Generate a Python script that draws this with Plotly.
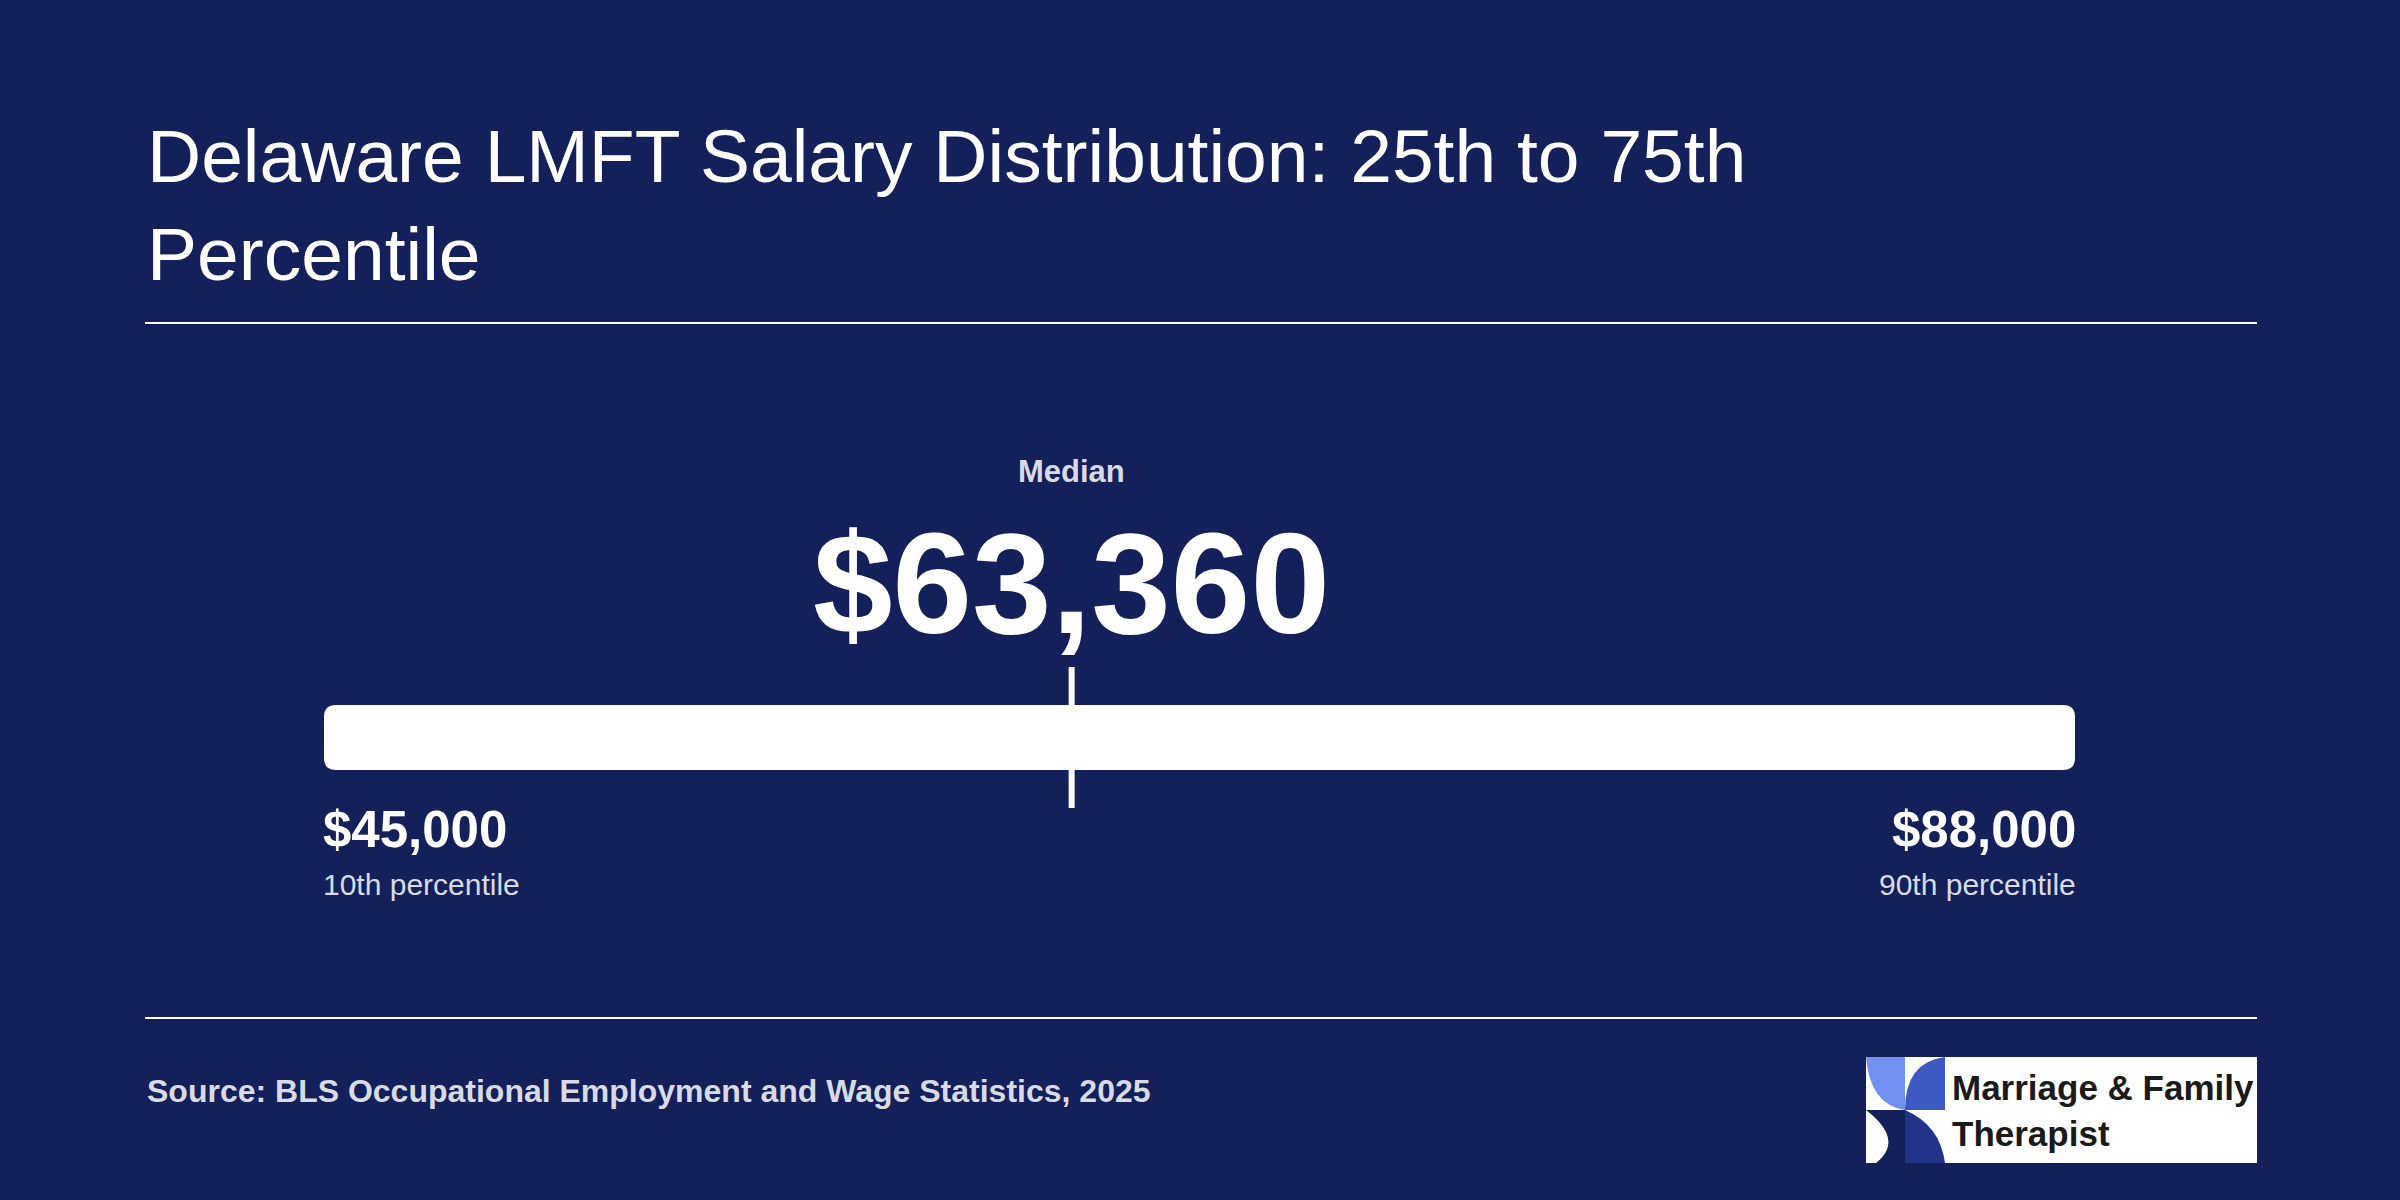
import plotly.graph_objects as go

# salary figures
low_value = 45000
median_value = 63360
high_value = 88000
low_label = "10th percentile"
high_label = "90th percentile"
title_text = "Delaware LMFT Salary Distribution: 25th to 75th<br>Percentile"
source_text = "Source: BLS Occupational Employment and Wage Statistics, 2025"

bg = "#14205a"
font = "Liberation Sans, Arial, sans-serif"
W, H = 2400, 1200
bar_l, bar_r = 324, 2075

# rounded bar outline, corner radius in data units (~12px)
rx = 12 / (bar_r - bar_l) * (high_value - low_value)
ry = 12 / H
yt, yb = 1 - 705 / H, 1 - 770 / H
bar_path = (f"M {low_value + rx},{yt} L {high_value - rx},{yt} Q {high_value},{yt} {high_value},{yt - ry} "
            f"L {high_value},{yb + ry} Q {high_value},{yb} {high_value - rx},{yb} "
            f"L {low_value + rx},{yb} Q {low_value},{yb} {low_value},{yb + ry} "
            f"L {low_value},{yt - ry} Q {low_value},{yt} {low_value + rx},{yt} Z")

fig = go.Figure()
fig.add_trace(go.Scatter(x=[low_value, high_value], y=[0, 0], mode="markers",
                         marker=dict(opacity=0), hoverinfo="skip", showlegend=False))

shapes = [
    # rules
    dict(type="line", xref="paper", yref="paper", x0=145/W, x1=2257/W, y0=1-323/H, y1=1-323/H,
         line=dict(color="white", width=2)),
    dict(type="line", xref="paper", yref="paper", x0=145/W, x1=2257/W, y0=1-1018/H, y1=1-1018/H,
         line=dict(color="white", width=2)),
    # range bar
    dict(type="path", xref="x", yref="paper", path=bar_path, fillcolor="white", line=dict(width=0)),
    # median marker
    dict(type="line", xref="x", yref="paper", x0=median_value, x1=median_value, y0=1-808/H, y1=1-667/H,
         line=dict(color="white", width=6)),
    # logo
    dict(type="rect", xref="paper", yref="paper", x0=1866/W, x1=2257/W, y0=1-1163/H, y1=1-1057/H,
         fillcolor="white", line=dict(width=0)),
    dict(type="path", xref="paper", yref="paper",
         path=f"M {1866/W},{1-1057/H} L {1905/W},{1-1057/H} L {1905/W},{1-1110/H} Q {1870/W},{1-1105/H} {1866/W},{1-1057/H} Z",
         fillcolor="#7090f2", line=dict(width=0)),
    dict(type="path", xref="paper", yref="paper",
         path=f"M {1945/W},{1-1057/H} L {1945/W},{1-1110/H} L {1905/W},{1-1110/H} Q {1905/W},{1-1062/H} {1945/W},{1-1057/H} Z",
         fillcolor="#3d59c4", line=dict(width=0)),
    dict(type="path", xref="paper", yref="paper",
         path=f"M {1866/W},{1-1110/H} L {1905/W},{1-1110/H} L {1905/W},{1-1163/H} L {1876/W},{1-1163/H} Q {1905/W},{1-1140/H} {1866/W},{1-1110/H} Z",
         fillcolor=bg, line=dict(width=0)),
    dict(type="path", xref="paper", yref="paper",
         path=f"M {1905/W},{1-1110/H} Q {1940/W},{1-1125/H} {1945/W},{1-1163/H} L {1905/W},{1-1163/H} Z",
         fillcolor="#22338a", line=dict(width=0)),
]

annotations = [
    dict(xref="paper", yref="paper", x=145/W, y=1-205/H, text=title_text, showarrow=False,
         xanchor="left", yanchor="middle", align="left",
         font=dict(family=font, size=75, color="white")),
    dict(xref="x", yref="paper", x=median_value, y=1-471/H, text="<b>Median</b>", showarrow=False,
         xanchor="center", yanchor="middle", font=dict(family=font, size=31, color="#d8dbe6")),
    dict(xref="x", yref="paper", x=median_value, y=1-583/H, text=f"<b>${median_value:,}</b>",
         showarrow=False, xanchor="center", yanchor="middle",
         font=dict(family=font, size=143, color="white")),
    dict(xref="x", yref="paper", x=low_value, y=1-829/H, text=f"<b>${low_value:,}</b>", showarrow=False,
         xanchor="left", yanchor="middle", xshift=-3, font=dict(family=font, size=51, color="white")),
    dict(xref="x", yref="paper", x=low_value, y=1-884/H, text=low_label, showarrow=False,
         xanchor="left", yanchor="middle", xshift=-3, font=dict(family=font, size=30, color="#d8dbe6")),
    dict(xref="x", yref="paper", x=high_value, y=1-829/H, text=f"<b>${high_value:,}</b>", showarrow=False,
         xanchor="right", yanchor="middle", xshift=3, font=dict(family=font, size=51, color="white")),
    dict(xref="x", yref="paper", x=high_value, y=1-884/H, text=high_label, showarrow=False,
         xanchor="right", yanchor="middle", xshift=3, font=dict(family=font, size=30, color="#d8dbe6")),
    dict(xref="paper", yref="paper", x=145/W, y=1-1091/H, text=f"<b>{source_text}</b>", showarrow=False,
         xanchor="left", yanchor="middle", font=dict(family=font, size=32, color="#d8dbe6")),
    dict(xref="paper", yref="paper", x=1950/W, y=1-1110/H, text="<b>Marriage & Family<br>Therapist</b>",
         showarrow=False, xanchor="left", yanchor="middle", align="left",
         font=dict(family=font, size=35, color="#1a1a1a")),
]

fig.update_layout(
    width=W, height=H, margin=dict(l=0, r=0, t=0, b=0),
    paper_bgcolor=bg, plot_bgcolor=bg,
    xaxis=dict(domain=[bar_l/W, bar_r/W], range=[low_value, high_value], visible=False),
    yaxis=dict(range=[-1, 1], visible=False),
    shapes=shapes, annotations=annotations,
)
fig.write_html("out.html", config={"displayModeBar": False},
               post_script="document.body.style.margin='0';document.body.style.background='#14205a';")
